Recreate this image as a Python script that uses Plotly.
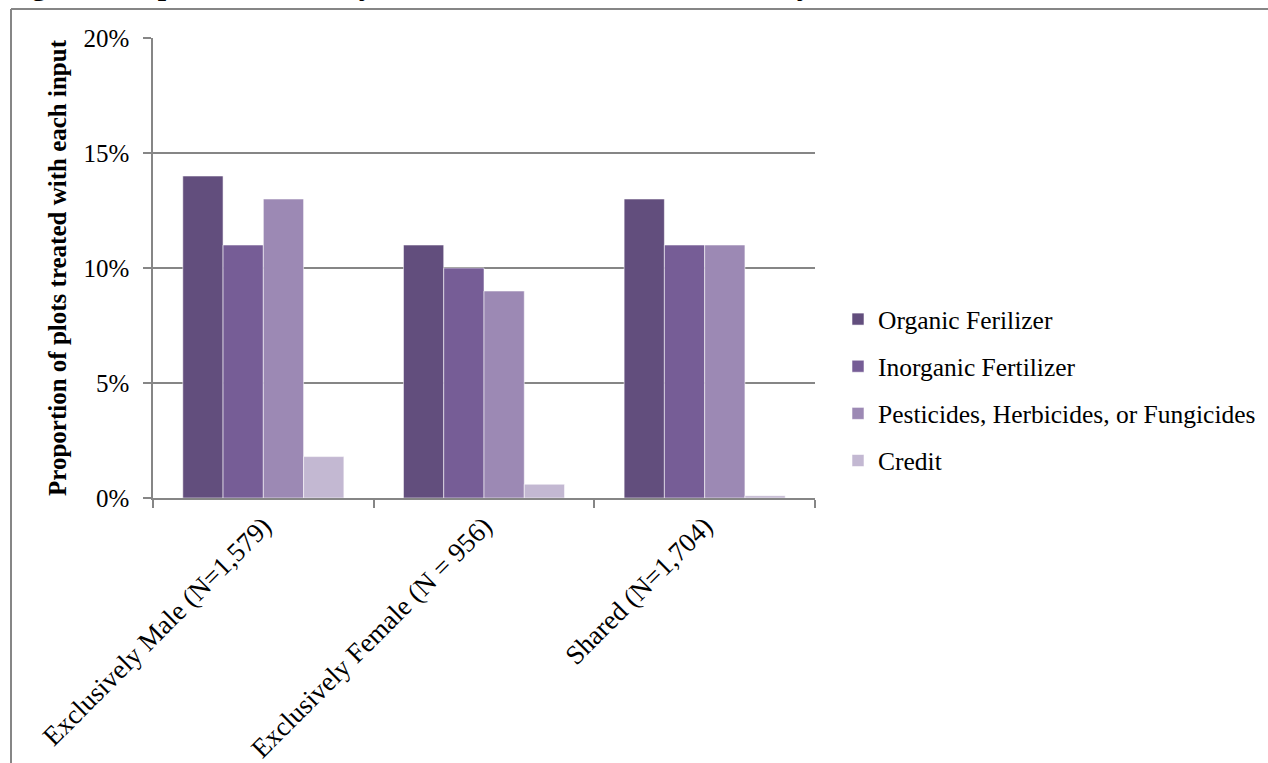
import plotly.graph_objects as go

# Plot decision-maker groups and share of plots treated with each input
categories = [
    "Exclusively Male (N=1,579)",
    "Exclusively Female (N = 956)",
    "Shared (N=1,704)",
]
organic = [0.14, 0.11, 0.13]
inorganic = [0.11, 0.10, 0.11]
pesticides = [0.13, 0.09, 0.11]
credit = [0.018, 0.006, 0.001]

series_names = [
    "Organic Ferilizer",
    "Inorganic Fertilizer",
    "Pesticides, Herbicides, or Fungicides",
    "Credit",
]
series_values = [organic, inorganic, pesticides, credit]
series_colors = ["#624E7D", "#765D96", "#9C89B4", "#C3B8D2"]

y_ticks = [0, 0.05, 0.10, 0.15, 0.20]
y_labels = ["0%", "5%", "10%", "15%", "20%"]

title_text = "Figure 5: Input Use Rates by Gender of Decision-Maker in Dry Season"
y_title = "Proportion of plots treated with each input"

FONT = "Liberation Serif"
GREY = "#868686"

W, H = 1268, 763
ML, MR, MT, MB = 153, 453, 38, 265
PW, PH = W - ML - MR, H - MT - MB


def px_x(px):
    return (px - ML) / PW


def px_y(py):
    return (H - MB - py) / PH


fig = go.Figure()
for i, (name, vals, col) in enumerate(zip(series_names, series_values, series_colors)):
    fig.add_trace(go.Bar(
        x=categories,
        y=vals,
        name=name,
        legendgroup=f"g{i}",
        marker=dict(color=col, line=dict(color="rgba(255,255,255,0.55)", width=1)),
    ))

fig.update_layout(
    width=W,
    height=H,
    margin=dict(l=ML, r=MR, t=MT, b=MB, autoexpand=False),
    paper_bgcolor="white",
    plot_bgcolor="white",
    barmode="group",
    bargap=0.27,
    bargroupgap=0,
    font=dict(family=FONT, size=25, color="black"),
    showlegend=True,
    legend=dict(
        x=px_x(838),
        xanchor="left",
        y=px_y(390),
        yanchor="middle",
        traceorder="grouped",
        tracegroupgap=11,
        font=dict(family=FONT, size=25.5, color="black"),
        bgcolor="rgba(0,0,0,0)",
    ),
    xaxis=dict(
        type="category",
        automargin=False,
        tickangle=-45,
        ticks="outside",
        tickson="boundaries",
        ticklen=8,
        tickwidth=1.5,
        tickcolor=GREY,
        showline=True,
        linecolor=GREY,
        linewidth=1.5,
        showgrid=False,
        tickfont=dict(family=FONT, size=27, color="black"),
    ),
    yaxis=dict(
        range=[0, 0.2],
        automargin=False,
        tickvals=y_ticks,
        ticktext=y_labels,
        ticks="outside",
        ticklen=8,
        tickwidth=1.5,
        tickcolor=GREY,
        ticklabelstandoff=9,
        showline=True,
        linecolor=GREY,
        linewidth=1.5,
        showgrid=True,
        gridcolor=GREY,
        gridwidth=1.5,
        zeroline=False,
        tickfont=dict(family=FONT, size=25, color="black"),
        title=dict(
            text="<b>" + y_title + "</b>",
            font=dict(family=FONT, size=25, color="black"),
            standoff=10,
        ),
    ),
)

# Frame around the figure (top and left edges)
fig.add_shape(type="line", xref="paper", yref="paper",
              x0=px_x(11), x1=px_x(W + 5), y0=px_y(9), y1=px_y(9),
              line=dict(color=GREY, width=2))
fig.add_shape(type="line", xref="paper", yref="paper",
              x0=px_x(11), x1=px_x(11), y0=px_y(9), y1=px_y(H + 5),
              line=dict(color=GREY, width=2))

# Caption above the frame
fig.add_annotation(
    text="<b>" + title_text + "</b>",
    xref="paper", yref="paper",
    x=px_x(3), y=px_y(3),
    xanchor="left", yanchor="bottom",
    showarrow=False,
    font=dict(family=FONT, size=30, color="black"),
)

fig.write_html("out.html")
